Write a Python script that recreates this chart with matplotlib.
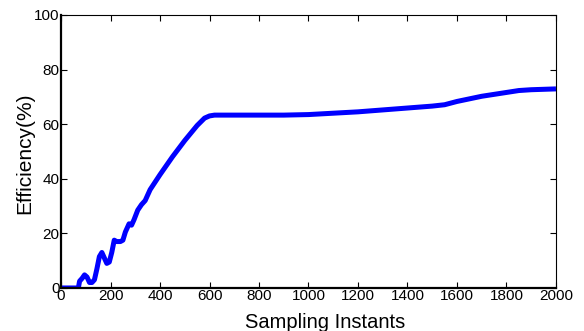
import numpy as np
import matplotlib.pyplot as plt

# efficiency curve
samples = [0, 70, 75, 85, 95, 105, 115, 125, 135, 145, 155, 165, 175, 185, 195,
           205, 215, 225, 240, 250, 260, 275, 285, 295, 310, 325, 340, 360, 400,
           450, 500, 550, 580, 600, 620, 700, 800, 900, 950, 1000, 1100, 1200,
           1300, 1400, 1500, 1550, 1600, 1700, 1800, 1850, 1900, 2000]
efficiency = [0, 0, 2.5, 3.5, 4.8, 4.0, 2.0, 2.0, 3.0, 7.0, 11.5, 13.0, 11.0, 9.0, 9.5,
              13.0, 17.5, 17.0, 17.0, 17.5, 20.5, 23.5, 23.0, 25.0, 28.5, 30.5, 32.0, 36.0, 41.5,
              48.0, 54.0, 59.5, 62.2, 63.0, 63.3, 63.3, 63.3, 63.3, 63.4, 63.5, 64.0, 64.5,
              65.2, 65.9, 66.6, 67.1, 68.3, 70.2, 71.6, 72.3, 72.6, 72.9]
xticks = [0, 200, 400, 600, 800, 1000, 1200, 1400, 1600, 1800, 2000]
yticks = [0, 20, 40, 60, 80, 100]

plt.rcParams['font.family'] = ['Liberation Sans', 'DejaVu Sans']

fig = plt.figure(figsize=(5.84, 3.31), dpi=100)
ax = fig.add_axes([0.1045, 0.13, 0.8475, 0.825])
ax.plot(samples, efficiency, color='#0000ff', linewidth=3.6, solid_capstyle='butt')

ax.set_xlim(0, 2000)
ax.set_ylim(0, 100)
ax.set_xticks(xticks)
ax.set_yticks(yticks)
ax.tick_params(direction='in', top=True, right=True, labelsize=11, length=4, pad=1)
for s in ['top', 'right']:
    ax.spines[s].set_linewidth(0.8)
for s in ['bottom', 'left']:
    ax.spines[s].set_linewidth(1.6)

# labels placed in figure coords, like the reference
fig.text(0.5565, 0.025, 'Sampling Instants', fontsize=14.5, ha='center', va='center')
fig.text(0.043, 0.536, 'Efficiency(%)', fontsize=15,
         rotation=90, ha='center', va='center')

fig.savefig('out.png', dpi=100)
